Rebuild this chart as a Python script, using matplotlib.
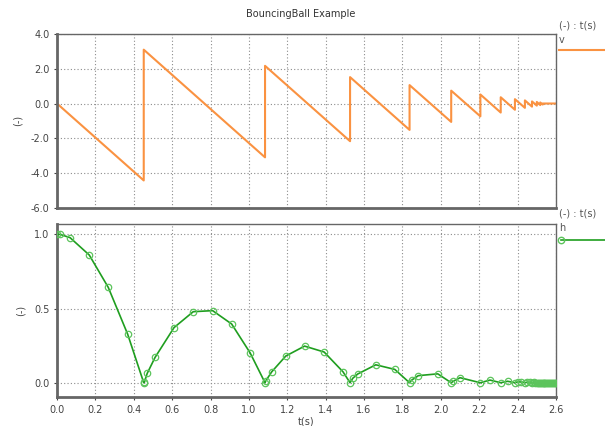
import matplotlib
matplotlib.use("Agg")
from matplotlib import pyplot as plt
from matplotlib.lines import Line2D

# velocity: impact times, velocity just before / just after each bounce
t_imp = [0.452, 1.084, 1.527, 1.837, 2.054, 2.206, 2.312, 2.386, 2.438,
         2.475, 2.500, 2.518, 2.531]
v_before = [-4.43, -3.10, -2.17, -1.52, -1.06, -0.74, -0.52, -0.36, -0.25,
            -0.18, -0.12, -0.09, -0.06]
v_after = [3.10, 2.17, 1.52, 1.06, 0.74, 0.52, 0.36, 0.25, 0.18,
           0.12, 0.09, 0.06, 0.0]
t_end = 2.6

# height: solver output points
t_h = [0.0, 0.016, 0.068, 0.168, 0.267, 0.368, 0.452, 0.455, 0.470, 0.511,
       0.610, 0.710, 0.811, 0.910, 1.006, 1.084, 1.087, 1.119, 1.192, 1.290,
       1.392, 1.490, 1.527, 1.541, 1.567, 1.661, 1.760, 1.837, 1.848, 1.883,
       1.984, 2.054, 2.065, 2.100, 2.206, 2.256, 2.312, 2.348, 2.386, 2.400,
       2.420, 2.438, 2.450, 2.462, 2.475, 2.485, 2.493, 2.500, 2.507, 2.512,
       2.518, 2.522, 2.526, 2.531, 2.535, 2.540, 2.545, 2.550, 2.555, 2.560,
       2.565, 2.570, 2.575, 2.580, 2.585, 2.590, 2.595, 2.600]
h = [1.0, 1.0, 0.978, 0.861, 0.643, 0.328, 0.0, 0.002, 0.063, 0.171,
     0.372, 0.479, 0.486, 0.396, 0.202, 0.0, 0.011, 0.074, 0.180, 0.247,
     0.207, 0.074, 0.0, 0.030, 0.059, 0.121, 0.090, 0.0, 0.018, 0.048,
     0.060, 0.0, 0.010, 0.034, 0.0, 0.018, 0.0, 0.010, 0.0, 0.006,
     0.005, 0.0, 0.004, 0.003, 0.0, 0.002, 0.001, 0.0, 0.001, 0.001,
     0.0, 0.0, 0.0, 0.0, 0.0, 0.0, 0.0, 0.0, 0.0, 0.0,
     0.0, 0.0, 0.0, 0.0, 0.0, 0.0, 0.0, 0.0]

x_ticks = [0.0, 0.2, 0.4, 0.6, 0.8, 1.0, 1.2, 1.4, 1.6, 1.8, 2.0, 2.2, 2.4, 2.6]
v_ticks = [-6.0, -4.0, -2.0, 0.0, 2.0, 4.0]
h_ticks = [0.0, 0.5, 1.0]

orange = '#fa9241'
green_line = '#1f9e1f'
green_mark = '#5cc45c'
txt = '#444444'

# build sawtooth from bounce lists
tv = [0.0]
vv = [0.0]
for ti, vb, va in zip(t_imp, v_before, v_after):
    tv += [ti, ti]
    vv += [vb, va]
tv.append(t_end)
vv.append(0.0)

fig = plt.figure(figsize=(6.05, 4.26), dpi=100)
ax1 = fig.add_axes([0.0942, 0.5124, 0.8248, 0.4077])
ax2 = fig.add_axes([0.0942, 0.0674, 0.8248, 0.4068])

for ax in (ax1, ax2):
    ax.set_xlim(0, 2.6)
    ax.set_xticks(x_ticks)
    ax.grid(True, color='#8c8c8c', linestyle=(0, (1, 2)), linewidth=0.8)
    for s in ax.spines.values():
        s.set_color('#666666')
        s.set_linewidth(1.0)
    ax.spines['left'].set_linewidth(2.0)
    ax.spines['bottom'].set_linewidth(2.0)
    ax.tick_params(labelsize=7, colors=txt, length=2, width=0.8)
    ax.set_ylabel('(-)', fontsize=7, color=txt, labelpad=6)

ax1.plot(tv, vv, color=orange, lw=1.5)
ax1.set_ylim(-6, 4)
ax1.set_yticks(v_ticks)
ax1.set_yticklabels(['%.1f' % y for y in v_ticks])
ax1.tick_params(axis='x', labelbottom=False, length=0)

ax2.plot(t_h, h, color=green_line, lw=1.2, zorder=3)
ax2.plot(t_h, h, linestyle='none', marker='o', markersize=4.6,
         markerfacecolor='none', markeredgecolor=green_mark, markeredgewidth=0.9,
         zorder=4)
ax2.set_ylim(-0.098, 1.07)
ax2.set_yticks(h_ticks)
ax2.set_yticklabels(['%.1f' % y for y in h_ticks])
ax2.set_xticklabels(['%.1f' % x for x in x_ticks])
ax2.set_xlabel('t(s)', fontsize=7, color=txt, labelpad=1)

fig.text(0.497, 0.967, 'BouncingBall Example', fontsize=7, color='#333333',
         ha='center', va='center')

# legend blocks on the right
fig.text(0.924, 0.941, '(-) : t(s)', fontsize=7, color='#555555', va='center')
fig.text(0.924, 0.906, 'v', fontsize=7, color='#555555', va='center')
fig.add_artist(Line2D([0.924, 1.0], [0.883, 0.883], color=orange, lw=1.5,
                      transform=fig.transFigure))
fig.text(0.924, 0.498, '(-) : t(s)', fontsize=7, color='#555555', va='center')
fig.text(0.924, 0.465, 'h', fontsize=7, color='#555555', va='center')
fig.add_artist(Line2D([0.927, 1.0], [0.437, 0.437], color=green_line, lw=1.2,
                      transform=fig.transFigure))
fig.add_artist(Line2D([0.927], [0.437], marker='o', markersize=4.6,
                      markerfacecolor='none', markeredgecolor=green_mark,
                      transform=fig.transFigure))

plt.savefig('out.png', dpi=100)
